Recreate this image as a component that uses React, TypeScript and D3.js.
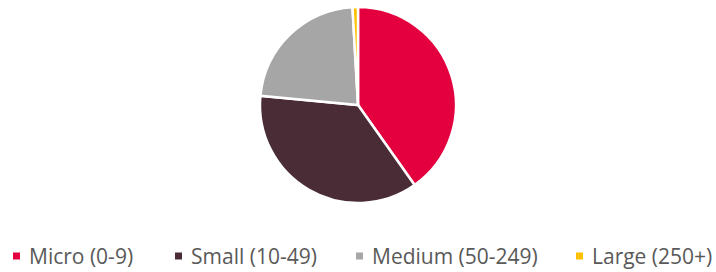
import { useEffect, useRef } from "react"
import * as d3 from "d3"

const categories = ["Micro (0-9)", "Small (10-49)", "Medium (50-249)", "Large (250+)"]
const shares = [40.2, 36.3, 22.6, 0.9]
const colors = ["#e4003f", "#4a2c36", "#a6a6a6", "#ffc000"]

const W = 716
const H = 272

export default function App() {
  const ref = useRef<SVGSVGElement>(null)

  useEffect(() => {
    const svg = d3.select(ref.current)
    svg.selectAll("*").remove()

    const cx = 358
    const cy = 105
    const radius = 98

    const pie = d3.pie<number>().sort(null).value((d) => d)
    const arc = d3.arc<d3.PieArcDatum<number>>().innerRadius(0).outerRadius(radius)

    svg
      .append("g")
      .attr("transform", `translate(${cx},${cy})`)
      .selectAll("path")
      .data(pie(shares))
      .join("path")
      .attr("d", arc)
      .attr("fill", (d, i) => colors[i])
      .attr("stroke", "#fff")
      .attr("stroke-width", 2.5)

    // legend
    const legendX = [13, 175, 356, 576]
    const legend = svg
      .append("g")
      .selectAll("g")
      .data(categories)
      .join("g")
      .attr("transform", (d, i) => `translate(${legendX[i]},264)`)

    legend
      .append("rect")
      .attr("x", 0)
      .attr("y", -11.5)
      .attr("width", 7)
      .attr("height", 7)
      .attr("fill", (d, i) => colors[i])

    legend
      .append("text")
      .attr("x", 16)
      .attr("y", 0)
      .attr("fill", "#595959")
      .style("font-family", "'Open Sans', sans-serif")
      .style("font-size", "21px")
      .text((d) => d)
  }, [])

  return (
    <svg
      ref={ref}
      width={W}
      height={H}
      style={{ position: "absolute", left: 0, top: 0, background: "#fff" }}
    />
  )
}
